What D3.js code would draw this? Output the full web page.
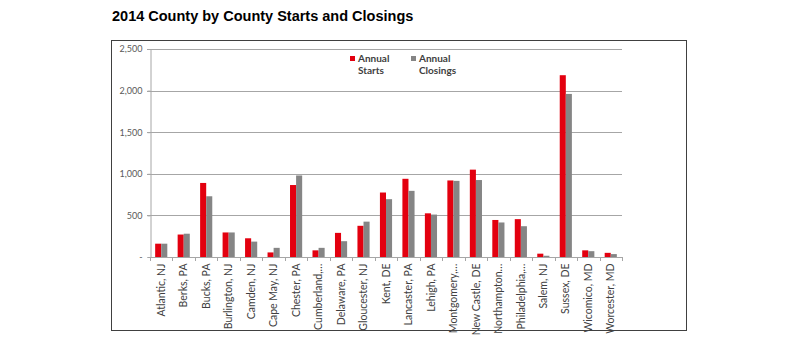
<!DOCTYPE html>
<html><head><meta charset="utf-8">
<script src="https://cdn.jsdelivr.net/npm/d3@7"></script>
<style>body{margin:0;background:#fff}</style>
</head><body>
<svg id="c" width="797" height="345"></svg>
<script>
const categories = ["Atlantic, NJ","Berks, PA","Bucks, PA","Burlington, NJ","Camden, NJ","Cape May, NJ","Chester, PA","Cumberland,…","Delaware, PA","Gloucester, NJ","Kent, DE","Lancaster, PA","Lehigh, PA","Montgomery,…","New Castle, DE","Northampton…","Philadelphia,…","Salem, NJ","Sussex, DE","Wicomico, MD","Worcester, MD"];
const annualStarts   = [160,270,890,295,225,55,865,80,290,375,775,940,525,920,1050,445,455,40,2185,80,50];
const annualClosings = [160,280,730,295,185,110,980,110,190,425,695,795,510,915,925,415,370,15,1960,70,35];
const yTicks = [0,500,1000,1500,2000,2500];
const seriesNames = ["Annual Starts","Annual Closings"];
const colors = ["#e3000f","#858585"];

const svg = d3.select("#c");
svg.append("text").attr("x",112).attr("y",21).attr("font-family","Liberation Sans, Arial").attr("font-weight","bold").attr("font-size",14.5).attr("fill","#000").text("2014 County by County Starts and Closings");
svg.append("rect").attr("x",111.5).attr("y",40.5).attr("width",575).attr("height",290).attr("fill","#fff").attr("stroke","#404040").attr("stroke-width",1);

const x0 = 150, x1 = 622, yTop = 49, yBot = 257;
const x = d3.scaleBand().domain(categories).range([x0,x1]).paddingInner(0).paddingOuter(0);
const y = d3.scaleLinear().domain([0,2500]).range([yBot,yTop]);
const bw = x.bandwidth();
const xs = d3.scaleBand().domain([0,1]).range([0,bw]).paddingInner(0).paddingOuter(0.85);

const fmt = v => v===0 ? "-" : d3.format(",")(v);
svg.append("g").selectAll("line").data(yTicks.filter(d=>d>0)).join("line")
  .attr("x1",x0-3).attr("x2",x1).attr("y1",d=>Math.round(y(d))+0.5).attr("y2",d=>Math.round(y(d))+0.5)
  .attr("stroke","#a6a6a6").attr("stroke-width",1);
const yAxis = svg.append("g").attr("transform",`translate(${x0+0.5},0)`)
  .call(d3.axisLeft(y).tickValues(yTicks).tickFormat(fmt).tickSize(3).tickPadding(5));
yAxis.selectAll("path,line").attr("stroke","#a6a6a6");
yAxis.selectAll("text").attr("font-family","Lato, Open Sans, sans-serif").attr("font-size",9).attr("fill","#595959");

const data = [annualStarts, annualClosings];
svg.append("g").selectAll("g").data(data).join("g").attr("fill",(d,i)=>colors[i])
  .each(function(vals,si){
    d3.select(this).selectAll("rect").data(vals).join("rect")
      .attr("x",(v,i)=>x(categories[i])+xs(si))
      .attr("width",xs.bandwidth())
      .attr("y",v=>y(v)).attr("height",v=>yBot-y(v));
  });

const xAxis = svg.append("g").attr("transform",`translate(0,${yBot+0.5})`)
  .call(d3.axisBottom(x).tickSize(0).tickPadding(0));
xAxis.select("path").attr("stroke","#a6a6a6").attr("d",`M${x0},0H${x1}`);
xAxis.selectAll(".tick text").attr("transform","rotate(-90)").attr("text-anchor","end")
  .attr("x",-6).attr("y",0).attr("dy","0.35em")
  .attr("font-family","Lato, Open Sans, sans-serif").attr("font-size",10.5).attr("fill","#404040");
svg.append("g").selectAll("line").data(d3.range(categories.length+1)).join("line")
  .attr("x1",i=>Math.round(x0+i*bw)+0.5).attr("x2",i=>Math.round(x0+i*bw)+0.5)
  .attr("y1",yBot).attr("y2",yBot+4).attr("stroke","#a6a6a6");

const lg = svg.append("g").attr("font-family","Lato, Open Sans, sans-serif").attr("font-weight","bold").attr("font-size",10).attr("fill","#404040");
const lx = [350,411];
seriesNames.forEach((n,i)=>{
  lg.append("rect").attr("x",lx[i]).attr("y",56).attr("width",5).attr("height",5).attr("fill",colors[i]);
  const parts = n.split(" ");
  lg.append("text").attr("x",lx[i]+8).attr("y",62).text(parts[0]);
  lg.append("text").attr("x",lx[i]+8).attr("y",74).text(parts[1]);
});
</script>
</body></html>
